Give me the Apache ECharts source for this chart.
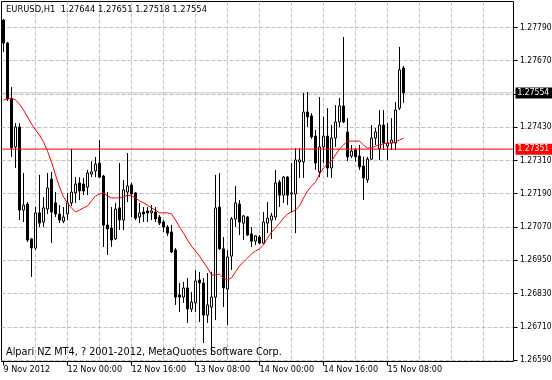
<!DOCTYPE html>
<html><head><meta charset="utf-8">
<script src="https://cdn.jsdelivr.net/npm/echarts@6/dist/echarts.min.js"></script>
<style>html,body{margin:0;padding:0;background:#fff}#c{width:552px;height:380px}</style>
</head><body><div id="c"></div><script>
// ---------------- data ----------------
const symbolName = 'EURUSD,H1';
const headerValues = [1.27644, 1.27651, 1.27518, 1.27554];
const copyright = 'Alpari NZ MT4, ? 2001-2012, MetaQuotes Software Corp.';
const firstLabel = '9 Nov 2012';
const bidPrice = 1.27554;
const levelPrice = 1.27351;

const opens = [
1.27817,1.27734,1.27532,1.27359,1.27431,1.27131,1.27153,1.27027,1.26994,1.27121,
1.27088,1.27135,1.27243,1.27157,1.27117,1.27091,1.27117,1.27157,1.27193,1.27229,
1.27225,1.27214,1.27261,1.27272,1.27301,1.27254,1.27077,1.27066,1.27027,1.27139,
1.27095,1.27196,1.27222,1.27193,1.27106,1.27124,1.27128,1.27121,1.27124,1.27106,
1.27088,1.27070,1.27052,1.26987,1.26825,1.26817,1.26850,1.26774,1.26796,1.26879,
1.26868,1.26752,1.26781,1.26817,1.27142,1.26991,1.26846,1.26965,1.27099,1.27153,
1.27084,1.27106,1.27045,1.27019,1.27034,1.27012,1.27084,1.27095,1.27106,1.27232,
1.27185,1.27250,1.27189,1.27189,1.27305,1.27305,1.27485,1.27471,1.27398,1.27269,
1.27359,1.27398,1.27283,1.27391,1.27449,1.27507,1.27413,1.27326,1.27348,1.27326,
1.27290,1.27240,1.27315,1.27391,1.27352,1.27438,1.27362,1.27373,1.27373,1.27499,
1.27644];
const closes = [
1.27734,1.27532,1.27355,1.27431,1.27131,1.27149,1.27023,1.26994,1.27121,1.27084,
1.27139,1.27211,1.27124,1.27117,1.27095,1.27106,1.27157,1.27196,1.27225,1.27200,
1.27200,1.27265,1.27269,1.27297,1.27250,1.27077,1.27063,1.27023,1.27135,1.27095,
1.27204,1.27218,1.27189,1.27102,1.27121,1.27117,1.27121,1.27128,1.27099,1.27084,
1.27070,1.27048,1.26980,1.26817,1.26817,1.26850,1.26774,1.26799,1.26875,1.26868,
1.26752,1.26789,1.26817,1.27139,1.26991,1.26850,1.26962,1.27099,1.27157,1.27088,
1.27110,1.27041,1.27019,1.27038,1.27012,1.27088,1.27102,1.27110,1.27229,1.27185,
1.27250,1.27185,1.27193,1.27312,1.27312,1.27485,1.27467,1.27395,1.27301,1.27359,
1.27398,1.27283,1.27391,1.27449,1.27507,1.27449,1.27323,1.27344,1.27323,1.27287,
1.27247,1.27315,1.27391,1.27413,1.27438,1.27373,1.27373,1.27384,1.27492,1.27637,
1.27554];
const lows = [
1.27702,1.27525,1.27323,1.27283,1.27095,1.27088,1.27016,1.26890,1.26987,1.27070,
1.27070,1.27117,1.27012,1.27106,1.27084,1.27084,1.27095,1.27146,1.27157,1.27167,
1.27185,1.27185,1.27250,1.27250,1.27247,1.26998,1.26969,1.26998,1.27023,1.27059,
1.27059,1.27160,1.27106,1.27095,1.27084,1.27088,1.27088,1.27095,1.27088,1.27077,
1.27052,1.27038,1.26976,1.26789,1.26763,1.26796,1.26724,1.26763,1.26763,1.26727,
1.26651,1.26724,1.26608,1.26734,1.26987,1.26781,1.26716,1.26915,1.27070,1.27041,
1.27023,1.27038,1.26998,1.27005,1.27009,1.27009,1.27048,1.27027,1.27095,1.27142,
1.27157,1.27149,1.27124,1.27048,1.27247,1.27247,1.27431,1.27388,1.27276,1.27250,
1.27301,1.27250,1.27247,1.27359,1.27431,1.27445,1.27308,1.27319,1.27305,1.27276,
1.27167,1.27229,1.27312,1.27366,1.27312,1.27348,1.27312,1.27348,1.27348,1.27492,
1.27518];
const highs = [
1.27821,1.27738,1.27575,1.27445,1.27445,1.27265,1.27160,1.27030,1.27142,1.27258,
1.27178,1.27265,1.27269,1.27196,1.27149,1.27142,1.27193,1.27352,1.27250,1.27250,
1.27247,1.27276,1.27308,1.27323,1.27384,1.27258,1.27196,1.27142,1.27157,1.27301,
1.27240,1.27337,1.27229,1.27196,1.27157,1.27142,1.27142,1.27149,1.27142,1.27113,
1.27095,1.27077,1.27077,1.26994,1.26868,1.26872,1.26886,1.26835,1.26915,1.26908,
1.26886,1.26904,1.26908,1.27258,1.27265,1.27034,1.26987,1.27106,1.27218,1.27167,
1.27113,1.27110,1.27070,1.27041,1.27041,1.27124,1.27160,1.27121,1.27276,1.27240,
1.27254,1.27254,1.27301,1.27355,1.27355,1.27554,1.27557,1.27481,1.27420,1.27539,
1.27467,1.27499,1.27438,1.27510,1.27536,1.27756,1.27463,1.27366,1.27355,1.27366,
1.27323,1.27323,1.27438,1.27427,1.27492,1.27492,1.27445,1.27463,1.27521,1.27720,
1.27651];
const maValues = [
1.27528,1.27532,1.27536,1.27528,1.27514,1.27492,1.27467,1.27442,1.27420,1.27402,
1.27377,1.27344,1.27305,1.27258,1.27214,1.27178,1.27157,1.27139,1.27124,1.27131,
1.27139,1.27146,1.27164,1.27182,1.27189,1.27193,1.27182,1.27175,1.27175,1.27175,
1.27178,1.27185,1.27182,1.27175,1.27164,1.27157,1.27149,1.27139,1.27131,1.27121,
1.27121,1.27121,1.27117,1.27095,1.27070,1.27048,1.27023,1.27001,1.26983,1.26965,
1.26944,1.26922,1.26897,1.26897,1.26900,1.26886,1.26879,1.26886,1.26908,1.26929,
1.26944,1.26958,1.26973,1.26983,1.26991,1.27005,1.27030,1.27052,1.27066,1.27084,
1.27102,1.27117,1.27124,1.27131,1.27146,1.27175,1.27200,1.27218,1.27232,1.27261,
1.27283,1.27297,1.27308,1.27330,1.27352,1.27366,1.27380,1.27380,1.27380,1.27380,
1.27366,1.27355,1.27355,1.27362,1.27366,1.27370,1.27373,1.27373,1.27377,1.27384,
1.27391];

// hourly time slots (incl. empty shift area on the right)
const slotCount = 128;
const categories = [];
for (let i = 0; i < slotCount; i++) {
  let day, hour;
  if (i < 16) { day = 9; hour = 8 + i; }
  else { const h = i - 16; day = 12 + Math.floor(h / 24); hour = h % 24; }
  categories.push(day + ' Nov ' + String(hour).padStart(2, '0') + ':00');
}

// ---------------- chart ----------------
const FONT = '"DejaVu Sans Condensed", "Liberation Sans", sans-serif';
const candles = opens.map((o, i) => [o, closes[i], lows[i], highs[i]]);
const labelEvery = (i) => i % 16 === 0 && i <= 96;
const priceAxis = {min: 1.26470, max: 1.27910};
const priceGrid = {left: 1.5, top: -5.75, width: 512, height: 399, show: false,
                   containLabel: false, outerBoundsMode: 'none'};

function levelSeries(price, lineColor, boxColor) {
  return {type: 'line', xAxisIndex: 2, yAxisIndex: 2, data: [[0, price], [1, price]],
    symbol: 'none', silent: true, z: 4,
    lineStyle: {color: lineColor, width: 1},
    endLabel: {show: true, distance: 2, formatter: price.toFixed(5), color: '#fff',
               backgroundColor: boxColor, padding: [1, 3, 1, 2],
               fontSize: 8.5, fontFamily: FONT}};
}

const chart = echarts.init(document.getElementById('c'), null, {renderer: 'canvas'});
chart.setOption({
  animation: false,
  backgroundColor: '#ffffff',
  title: [
    {text: symbolName + '  ' + headerValues.map(v => v.toFixed(5)).join(' '),
     left: 6, top: 5, padding: 0,
     textStyle: {fontSize: 9.3, fontWeight: 'normal', color: '#000', fontFamily: FONT}},
    {text: copyright, left: 6, top: 347, padding: 0,
     textStyle: {fontSize: 10.8, fontWeight: 'normal', color: '#000', fontFamily: FONT}}
  ],
  grid: [
    {left: 1.5, top: 1.5, width: 512, height: 360, show: true, containLabel: false,
     outerBoundsMode: 'none',
     borderColor: '#000', borderWidth: 1, backgroundColor: 'transparent'},
    Object.assign({}, priceGrid),
    Object.assign({}, priceGrid)
  ],
  xAxis: [
    {gridIndex: 0, type: 'category', data: categories, boundaryGap: true,
     axisLine: {show: false},
     axisTick: {show: true, alignWithLabel: true, interval: labelEvery, length: 4,
                lineStyle: {color: '#000', width: 1}},
     axisLabel: {interval: labelEvery, align: 'left', margin: 4, fontSize: 9,
                 color: '#000', fontFamily: FONT,
                 formatter: (v, i) => i === 0 ? firstLabel : v},
     splitLine: {show: true, alignWithLabel: true,
                 interval: (i) => i % 8 === 0 && i > 0,
                 lineStyle: {color: '#c0c0c0', width: 1, type: [4, 2]}}},
    {gridIndex: 1, type: 'category', data: categories, boundaryGap: true, show: false},
    {gridIndex: 2, type: 'value', min: 0, max: 1, show: false}
  ],
  yAxis: [
    {gridIndex: 0, type: 'value', show: false, min: 0, max: 1},
    {gridIndex: 1, type: 'value', position: 'right', min: priceAxis.min, max: priceAxis.max,
     interval: 0.0012,
     axisLine: {show: false},
     axisTick: {show: true, length: 4, lineStyle: {color: '#000', width: 1}},
     axisLabel: {margin: 6.5, fontSize: 8.5, color: '#000', fontFamily: FONT,
                 formatter: (v) => Math.abs(v - 1.2755) < 1e-6 ? '' : v.toFixed(5)},
     splitLine: {show: true, lineStyle: {color: '#c0c0c0', width: 1, type: [4, 2]}}},
    {gridIndex: 2, type: 'value', min: priceAxis.min, max: priceAxis.max, show: false}
  ],
  series: [
    levelSeries(bidPrice, '#c0c0c0', '#000000'),
    {type: 'candlestick', xAxisIndex: 1, yAxisIndex: 1, data: candles, barWidth: 2, z: 5,
     itemStyle: {color: '#ffffff', color0: '#000000', borderColor: '#000000',
                 borderColor0: '#000000', borderWidth: 1}},
    {type: 'line', xAxisIndex: 1, yAxisIndex: 1, data: maValues, symbol: 'none',
     smooth: false, lineStyle: {color: '#ff0000', width: 1}, z: 6},
    Object.assign(levelSeries(levelPrice, '#ff0000', '#ff0000'), {z: 6})
  ]
});
</script></body></html>
